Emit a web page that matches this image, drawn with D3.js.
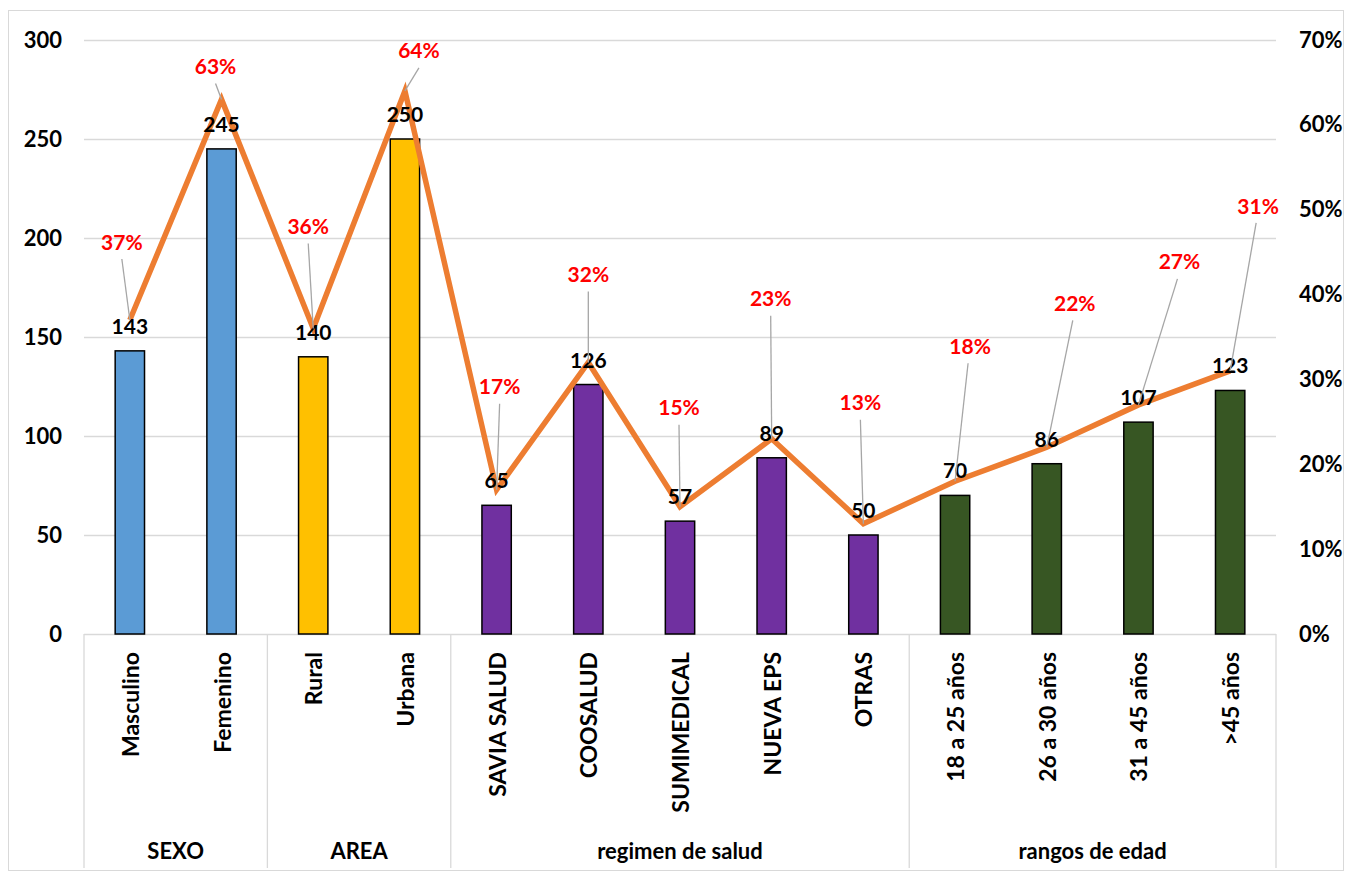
<!DOCTYPE html>
<html><head><meta charset="utf-8">
<script src="https://cdn.jsdelivr.net/npm/d3@7"></script>
<style>body{margin:0;background:#fff}svg text{font-family:Lato,"Open Sans",sans-serif;font-weight:bold}</style>
</head><body><svg id="c" width="1352" height="873"></svg>
<script>
const categories=["Masculino","Femenino","Rural","Urbana","SAVIA SALUD","COOSALUD","SUMIMEDICAL","NUEVA EPS","OTRAS","18 a 25 años","26 a 30 años","31 a 45 años",">45 años"];
const groups=["SEXO","SEXO","AREA","AREA","regimen de salud","regimen de salud","regimen de salud","regimen de salud","regimen de salud","rangos de edad","rangos de edad","rangos de edad","rangos de edad"];
const counts=[143,245,140,250,65,126,57,89,50,70,86,107,123];
const percents=[0.37,0.63,0.36,0.64,0.17,0.32,0.15,0.23,0.13,0.18,0.22,0.27,0.31];
const groupColors={"SEXO":"#5B9BD5","AREA":"#FFC000","regimen de salud":"#7030A0","rangos de edad":"#375623"};
const leftTicks=[0,50,100,150,200,250,300];
const rightTicks=[0,0.1,0.2,0.3,0.4,0.5,0.6,0.7];
const pctLabelOffset=[[-8,-78],[-6,-33],[-5,-102],[14,-40],[3,-103],[0,-88],[-1,-99],[-1,-140],[-3,-121],[15,-135],[28,-144],[41,-143],[28,-165]];

const svg=d3.select("#c");
const L=84,R=1276,T=40,B=634;
const x=d3.scaleBand().domain(categories).range([L,R]).paddingInner(0.68).paddingOuter(0.34);
const y=d3.scaleLinear().domain([0,300]).range([B,T]);
const y2=d3.scaleLinear().domain([0,0.7]).range([B,T]);
const step=x.step();

svg.append("rect").attr("x",8.5).attr("y",10.5).attr("width",1335).attr("height",860).attr("fill","none").attr("stroke","#d9d9d9");

svg.append("g").selectAll("line").data(leftTicks).join("line")
 .attr("x1",L).attr("x2",R).attr("y1",d=>y(d)+0.5).attr("y2",d=>y(d)+0.5).attr("stroke","#d9d9d9").attr("stroke-width",1.3);

const ax=d3.axisLeft(y).tickValues(leftTicks).tickSize(0).tickPadding(22);
const gl=svg.append("g").attr("transform",`translate(${L},0)`).call(ax);
gl.select(".domain").remove();
gl.selectAll("text").attr("font-size",22).attr("fill","#000").style("font-family","Lato,sans-serif");
const ax2=d3.axisRight(y2).tickValues(rightTicks).tickFormat(d3.format(".0%")).tickSize(0).tickPadding(23);
const gr=svg.append("g").attr("transform",`translate(${R},0)`).call(ax2);
gr.select(".domain").remove();
gr.selectAll("text").attr("font-size",22).attr("fill","#000").style("font-family","Lato,sans-serif");

svg.append("g").selectAll("rect").data(categories).join("rect")
 .attr("x",d=>x(d)).attr("width",x.bandwidth()).attr("y",(d,i)=>y(counts[i])).attr("height",(d,i)=>B-y(counts[i]))
 .attr("fill",(d,i)=>groupColors[groups[i]]).attr("stroke","#000").attr("stroke-width",1.5);

const groupNames=[...new Set(groups)];
const edges=[L];
groupNames.forEach(g=>{const idx=groups.lastIndexOf(g);edges.push(L+(idx+1)*step);});
svg.append("g").selectAll("line").data(edges).join("line")
 .attr("x1",d=>d).attr("x2",d=>d).attr("y1",B).attr("y2",868).attr("stroke","#d9d9d9").attr("stroke-width",1.3);

svg.append("g").selectAll("text").data(categories).join("text")
 .attr("transform",d=>`translate(${x(d)+x.bandwidth()/2+9},652) rotate(-90)`)
 .attr("text-anchor","end").attr("font-size",23).text(d=>d);

svg.append("g").selectAll("text").data(groupNames).join("text")
 .attr("x",(g,i)=>(edges[i]+edges[i+1])/2).attr("y",859).attr("text-anchor","middle").attr("font-size",22).text(d=>d);

const cx=i=>x(categories[i])+x.bandwidth()/2;
const line=d3.line().x((d,i)=>cx(i)).y(d=>y2(d));
svg.append("path").datum(percents).attr("d",line).attr("fill","none").attr("stroke","#ED7D31").attr("stroke-width",5.5).attr("stroke-linejoin","miter");

svg.append("g").selectAll("text").data(counts).join("text")
 .attr("x",(d,i)=>cx(i)).attr("y",d=>y(d)-17).attr("text-anchor","middle").attr("font-size",21).text(d=>d);

const pg=svg.append("g");
percents.forEach((p,i)=>{
 const px=cx(i),py=y2(p);
 const lx=px+pctLabelOffset[i][0],ly=py+pctLabelOffset[i][1];
 pg.append("line").attr("x1",lx+(i>=9?-2:0)).attr("y1",ly+17).attr("x2",px).attr("y2",py).attr("stroke","#a6a6a6").attr("stroke-width",1.3);
 pg.append("text").attr("x",lx).attr("y",ly).attr("dy","0.36em").attr("text-anchor","middle").attr("font-size",21).attr("fill","#FF0000").text(d3.format(".0%")(p));
});
</script></body></html>
